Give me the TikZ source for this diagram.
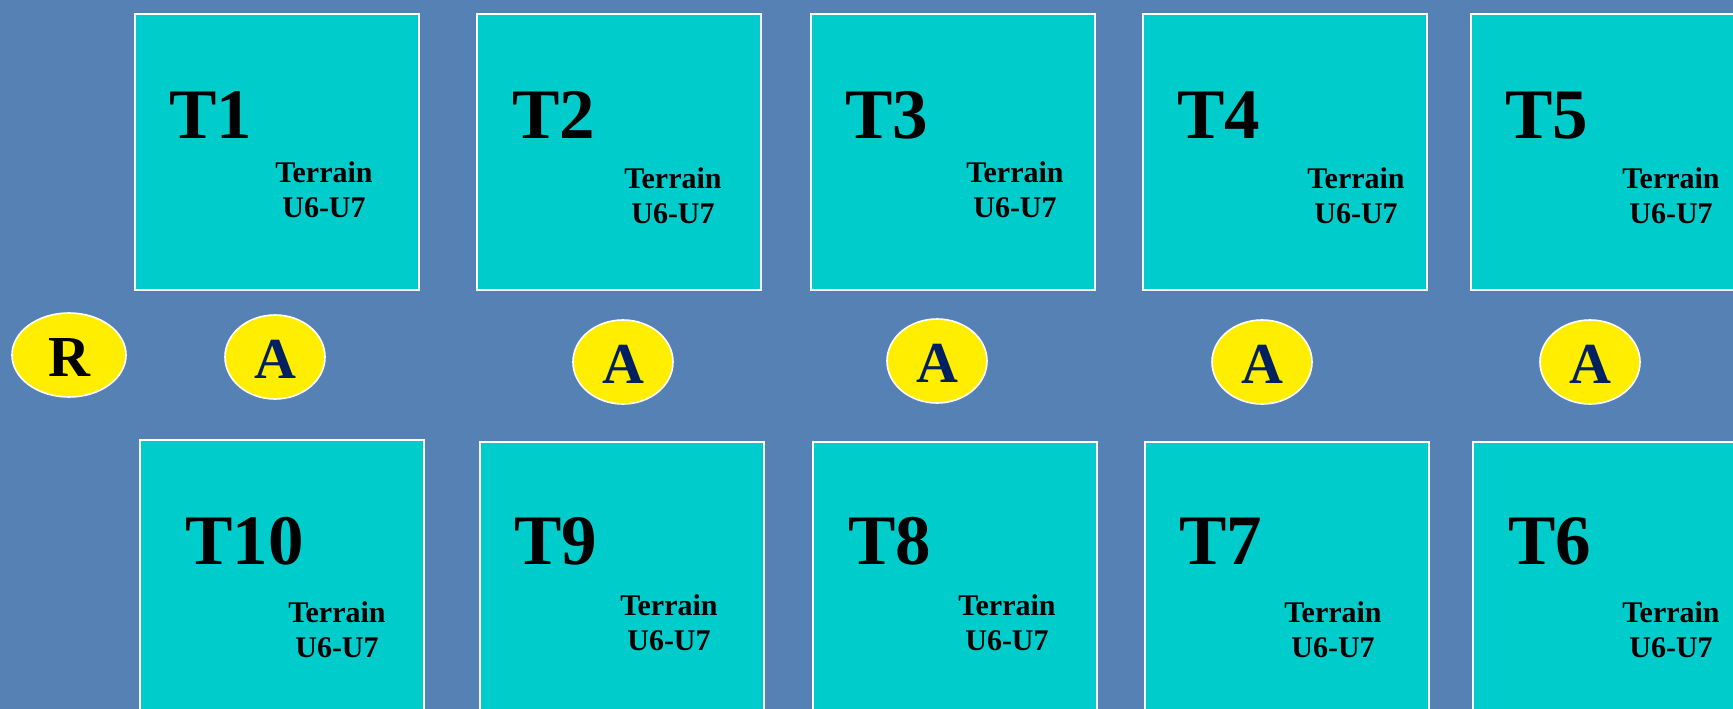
\documentclass[tikz,border=0pt]{standalone}
\usepackage{fontspec}
\setmainfont{Liberation Serif}
\usepackage{xcolor}
\usepackage{tikz}
\usetikzlibrary{shapes,positioning}

\definecolor{bgblue}{HTML}{5681B5}
\definecolor{tealfill}{HTML}{00CCCC}
\definecolor{yellowfill}{HTML}{FFEE00}
\definecolor{navytext}{HTML}{002060}

\begin{document}
\begin{tikzpicture}[x=1pt, y=-1pt, every node/.style={font=\bfseries}]
  \tikzset{
    tbox/.style={rectangle, draw=white, line width=1.6pt, fill=tealfill, minimum width=284pt, minimum height=276pt, inner sep=0pt, anchor=north west},
    tlabel/.style={anchor=base west, inner sep=0pt, font=\fontsize{71}{80}\selectfont\bfseries},
    terrain/.style={anchor=base, inner sep=0pt, align=center, font=\fontsize{30}{35}\selectfont\bfseries},
    rnode/.style={ellipse, draw=white, line width=1.6pt, fill=yellowfill, minimum width=114pt, minimum height=84pt, inner sep=0pt, text height=43pt, text depth=0pt, font=\fontsize{58}{60}\selectfont\bfseries},
    anode/.style={rnode, minimum width=100pt, text=navytext}
  }

  % page and background
  \useasboundingbox (0,0) rectangle (1733,709);
  \clip (0,0) rectangle (1733,709);
  \fill[bgblue] (0,0) rectangle (1733,709);

  % top row of terrains (base = second text line)
  \foreach \n/\x/\lx/\tx/\ty in {1/134/35/190/217, 2/476/36/197/223, 3/810/35/205/217, 4/1142/35/214/223, 5/1470/35/201/223} {
    \node[tbox] (t\n) at (\x,13) {};
    \node[tlabel] (t\n-name) at (\x+\lx,138) {T\n};
    \node[terrain] (t\n-info) at (\x+\tx,\ty) {Terrain\\U6-U7};
  }

  % bottom row of terrains
  \foreach \n/\x/\y/\lx/\tx/\ty in {10/139/439/46/198/657, 9/479/441/35/190/650, 8/812/441/36/195/650, 7/1144/441/35/189/657, 6/1472/441/36/199/657} {
    \node[tbox] (t\n) at (\x,\y) {};
    \node[tlabel] (t\n-name) at (\x+\lx,564) {T\n};
    \node[terrain] (t\n-info) at (\x+\tx,\ty) {Terrain\\U6-U7};
  }

  % markers in the middle lane
  \node[rnode] (r) at (69,355) {R};
  \foreach \n/\x/\y in {1/275/357, 2/623/362, 3/937/361, 4/1262/362, 5/1590/362} {
    \node[anode] (a\n) at (\x,\y) {A};
  }
\end{tikzpicture}
\end{document}
